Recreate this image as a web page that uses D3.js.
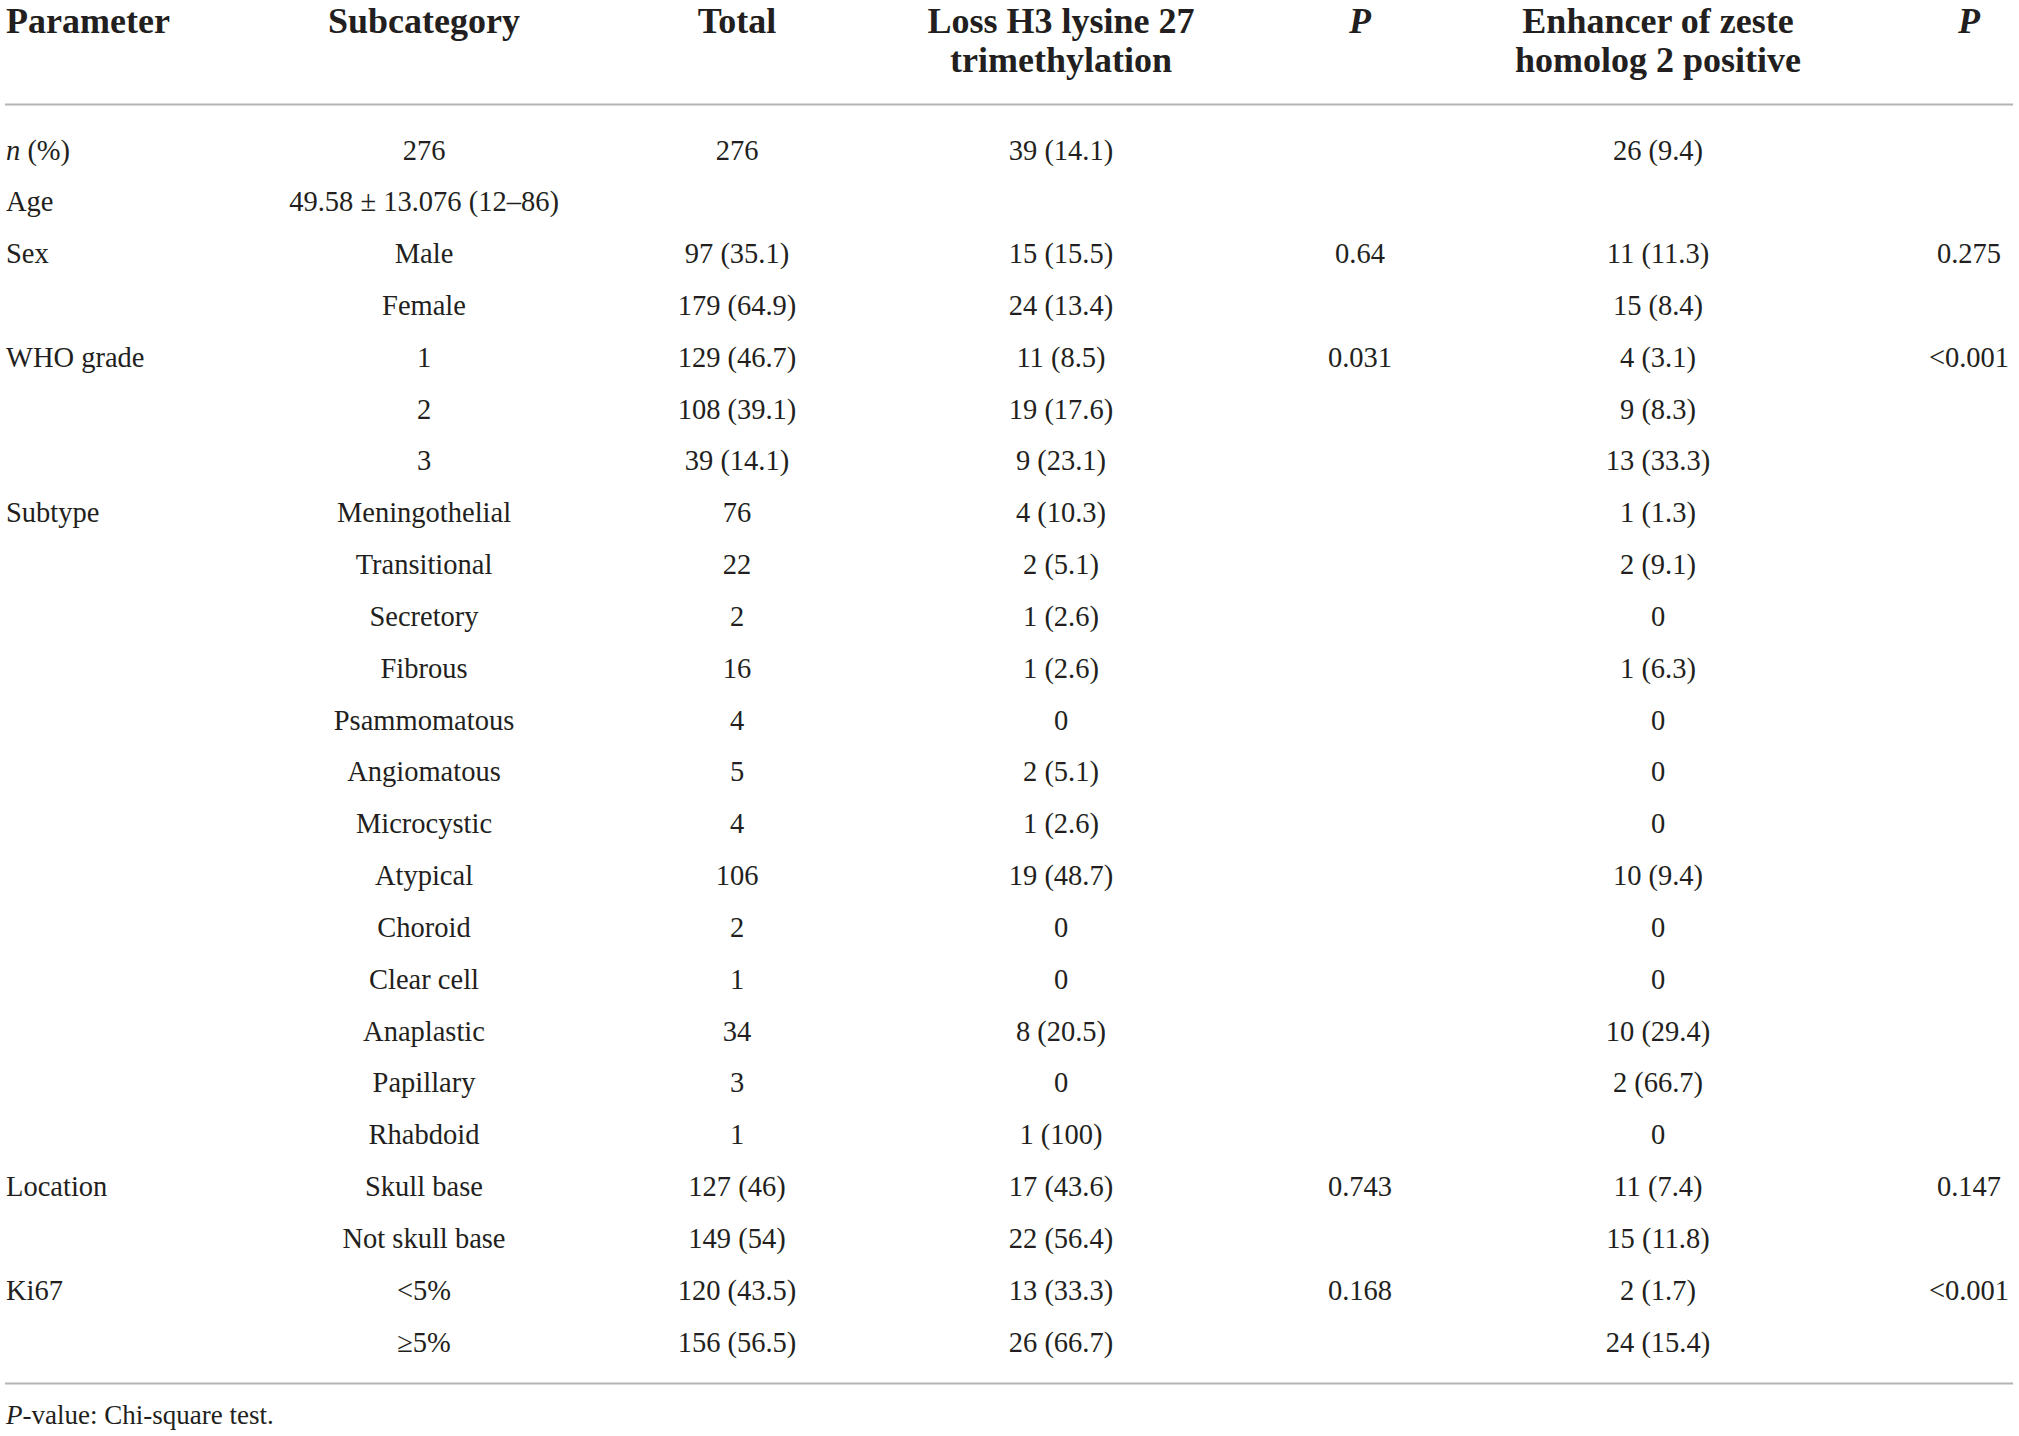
<!DOCTYPE html>
<html>
<head>
<meta charset="utf-8">
<script src="https://cdn.jsdelivr.net/npm/d3@7"></script>
<style>
  html, body { margin: 0; padding: 0; background: #fff; }
  svg { display: block; }
</style>
</head>
<body>
<div id="chart"></div>
<script>
// ---------- data ----------
const columnKeys = ["param", "subcat", "total", "loss", "pLoss", "ezh2", "pEzh2"];
const headerLine1 = ["Parameter", "Subcategory", "Total", "Loss H3 lysine 27", "P", "Enhancer of zeste", "P"];
const headerLine2 = ["", "", "", "trimethylation", "", "homolog 2 positive", ""];

const parameters = ["n (%)", "Age", "Sex", "", "WHO grade", "", "", "Subtype", "", "", "", "", "", "", "", "", "", "", "", "", "Location", "", "Ki67", ""];
const subcategories = ["276", "49.58 ± 13.076 (12–86)", "Male", "Female", "1", "2", "3", "Meningothelial", "Transitional", "Secretory", "Fibrous", "Psammomatous", "Angiomatous", "Microcystic", "Atypical", "Choroid", "Clear cell", "Anaplastic", "Papillary", "Rhabdoid", "Skull base", "Not skull base", "<5%", "≥5%"];
const totals = ["276", "", "97 (35.1)", "179 (64.9)", "129 (46.7)", "108 (39.1)", "39 (14.1)", "76", "22", "2", "16", "4", "5", "4", "106", "2", "1", "34", "3", "1", "127 (46)", "149 (54)", "120 (43.5)", "156 (56.5)"];
const lossH3K27 = ["39 (14.1)", "", "15 (15.5)", "24 (13.4)", "11 (8.5)", "19 (17.6)", "9 (23.1)", "4 (10.3)", "2 (5.1)", "1 (2.6)", "1 (2.6)", "0", "2 (5.1)", "1 (2.6)", "19 (48.7)", "0", "0", "8 (20.5)", "0", "1 (100)", "17 (43.6)", "22 (56.4)", "13 (33.3)", "26 (66.7)"];
const pLoss = ["", "", "0.64", "", "0.031", "", "", "", "", "", "", "", "", "", "", "", "", "", "", "", "0.743", "", "0.168", ""];
const ezh2Positive = ["26 (9.4)", "", "11 (11.3)", "15 (8.4)", "4 (3.1)", "9 (8.3)", "13 (33.3)", "1 (1.3)", "2 (9.1)", "0", "1 (6.3)", "0", "0", "0", "10 (9.4)", "0", "0", "10 (29.4)", "2 (66.7)", "0", "11 (7.4)", "15 (11.8)", "2 (1.7)", "24 (15.4)"];
const pEzh2 = ["", "", "0.275", "", "<0.001", "", "", "", "", "", "", "", "", "", "", "", "", "", "", "", "0.147", "", "<0.001", ""];
const footnote = "-value: Chi-square test.";

// ---------- layout ----------
const W = 2019, H = 1436;
const FONT = "'Liberation Serif', 'Times New Roman', serif";
const INK = "#231f20";
const bodySize = 28.5, headSize = 36, noteSize = 27;

const svg = d3.select("#chart").append("svg")
  .attr("width", W).attr("height", H)
  .attr("viewBox", `0 0 ${W} ${H}`);

const xCol = d3.scaleOrdinal()
  .domain(columnKeys)
  .range([6, 424, 737, 1061, 1360, 1658, 1969]);

const rowIdx = d3.range(subcategories.length);
const yRow = d3.scalePoint().domain(rowIdx).range([150, 1342]);

const columns = {
  param: parameters, subcat: subcategories, total: totals,
  loss: lossH3K27, pLoss: pLoss, ezh2: ezh2Positive, pEzh2: pEzh2
};

// rules
const rules = [104.5, 1383.5];
svg.selectAll("line.rule").data(rules).join("line")
  .attr("class", "rule")
  .attr("x1", 5).attr("x2", 2013)
  .attr("y1", d => d).attr("y2", d => d)
  .attr("stroke", "#b3b3b3").attr("stroke-width", 2);

// header
const head = svg.append("g").attr("font-family", FONT).attr("font-weight", "bold")
  .attr("font-size", headSize).attr("fill", INK);
columnKeys.forEach((k, i) => {
  const anchor = k === "param" ? "start" : "middle";
  const italic = headerLine1[i] === "P";
  head.append("text").attr("x", xCol(k)).attr("y", 33)
    .attr("text-anchor", anchor)
    .attr("font-style", italic ? "italic" : "normal")
    .text(headerLine1[i]);
  if (headerLine2[i]) {
    head.append("text").attr("x", xCol(k)).attr("y", 72)
      .attr("text-anchor", anchor).text(headerLine2[i]);
  }
});

// body
const body = svg.append("g").attr("font-family", FONT)
  .attr("font-size", bodySize).attr("fill", INK);
columnKeys.forEach(k => {
  const vals = columns[k];
  const g = body.append("g");
  g.selectAll("text").data(rowIdx.filter(i => vals[i] !== "")).join("text")
    .attr("x", xCol(k))
    .attr("y", i => yRow(i) + 9.5)
    .attr("text-anchor", k === "param" ? "start" : "middle")
    .each(function (i) {
      const t = d3.select(this);
      const v = vals[i];
      if (k === "param" && v === "n (%)") {
        t.append("tspan").attr("font-style", "italic").text("n");
        t.append("tspan").text(" (%)");
      } else {
        t.text(v);
      }
    });
});

// footnote
const fn = svg.append("text").attr("font-family", FONT).attr("font-size", noteSize)
  .attr("fill", INK).attr("x", 6).attr("y", 1424);
fn.append("tspan").attr("font-style", "italic").text("P");
fn.append("tspan").text(footnote);
</script>
</body>
</html>
